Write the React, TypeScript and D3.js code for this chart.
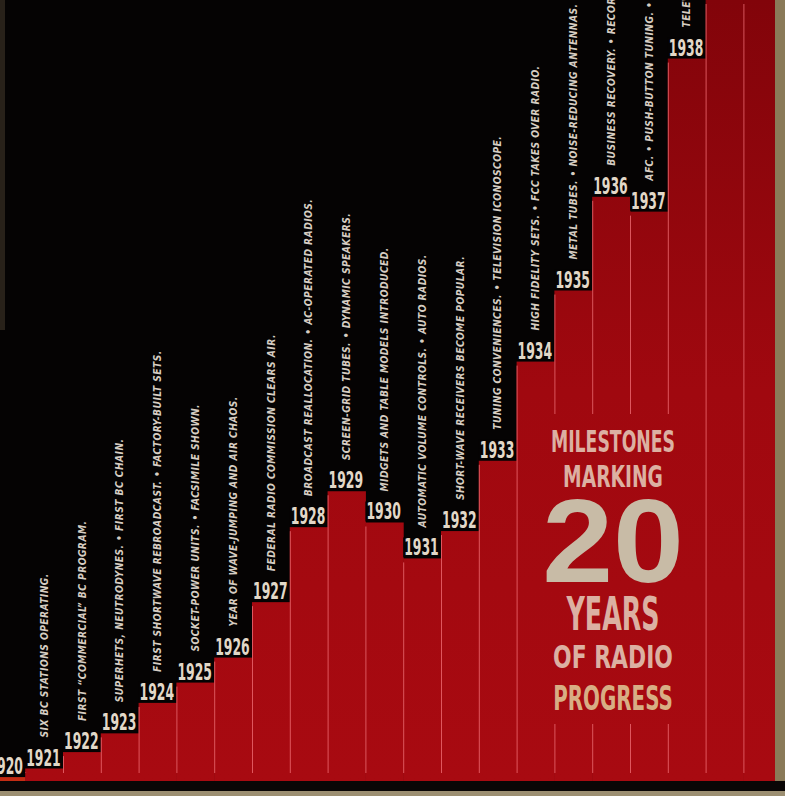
import React, { useRef, useEffect } from "react";
import * as d3 from "d3";

const WIDTH = 785;
const HEIGHT = 796;
const BASE = 781;

const years = [
  "1920", "1921", "1922", "1923", "1924", "1925", "1926", "1927", "1928", "1929", "1930",
  "1931", "1932", "1933", "1934", "1935", "1936", "1937", "1938", "1939", "1940",
];

// height of each step (0 = floor, 100 = top edge)
const progress = [
  0.5, 1.6, 3.7, 6.1, 10.0, 12.6, 15.8, 22.9, 32.5, 37.1, 33.1,
  28.5, 32.0, 41.0, 53.7, 62.8, 74.8, 72.9, 92.5, 110, 115,
];

const milestones = [
  "",
  "SIX BC STATIONS OPERATING.",
  "FIRST \u201CCOMMERCIAL\u201D BC PROGRAM.",
  "SUPERHETS, NEUTRODYNES. \u2022 FIRST BC CHAIN.",
  "FIRST SHORTWAVE REBROADCAST. \u2022 FACTORY-BUILT SETS.",
  "SOCKET-POWER UNITS. \u2022 FACSIMILE SHOWN.",
  "YEAR OF WAVE-JUMPING AND AIR CHAOS.",
  "FEDERAL RADIO COMMISSION CLEARS AIR.",
  "BROADCAST REALLOCATION. \u2022 AC-OPERATED RADIOS.",
  "SCREEN-GRID TUBES. \u2022 DYNAMIC SPEAKERS.",
  "MIDGETS AND TABLE MODELS INTRODUCED.",
  "AUTOMATIC VOLUME CONTROLS. \u2022 AUTO RADIOS.",
  "SHORT-WAVE RECEIVERS BECOME POPULAR.",
  "TUNING CONVENIENCES. \u2022 TELEVISION ICONOSCOPE.",
  "HIGH FIDELITY SETS. \u2022 FCC TAKES OVER RADIO.",
  "METAL TUBES. \u2022 NOISE-REDUCING ANTENNAS.",
  "BUSINESS RECOVERY. \u2022 RECORD SALES.",
  "AFC. \u2022 PUSH-BUTTON TUNING. \u2022 TELEVISION TESTS.",
  "TELEVISION DEBUT.",
  "",
  "",
];

const titleLines = ["MILESTONES", "MARKING", "20", "YEARS", "OF RADIO", "PROGRESS"];

const NARROW = "'Liberation Sans Narrow', 'DejaVu Sans Condensed', 'Arial Narrow', sans-serif";

export default function RadioMilestones() {
  const svgRef = useRef<SVGSVGElement | null>(null);

  useEffect(() => {
    const svg = d3.select(svgRef.current);
    svg.selectAll("*").remove();

    const x = d3
      .scaleBand<string>()
      .domain(years)
      .range([-12.6, -12.6 + years.length * 37.8])
      .padding(0);
    const y = d3.scaleLinear().domain([0, 100]).range([BASE, 0]);

    const rows = years.map((yr, i) => ({ yr, v: progress[i], text: milestones[i] }));

    // red darkens toward the top of the page
    const grad = svg
      .append("defs")
      .append("linearGradient")
      .attr("id", "barRed")
      .attr("gradientUnits", "userSpaceOnUse")
      .attr("x1", 0)
      .attr("y1", 0)
      .attr("x2", 0)
      .attr("y2", BASE);
    grad.append("stop").attr("offset", 0).attr("stop-color", "#82040a");
    grad.append("stop").attr("offset", 0.5).attr("stop-color", "#a0080f");
    grad.append("stop").attr("offset", 1).attr("stop-color", "#a80a11");

    // black page
    svg.append("rect").attr("width", WIDTH).attr("height", HEIGHT).attr("fill", "#050303");

    // bars
    svg
      .append("g")
      .selectAll("rect")
      .data(rows)
      .enter()
      .append("rect")
      .attr("x", (d) => x(d.yr)!)
      .attr("y", (d) => Math.max(0, y(d.v)))
      .attr("width", x.bandwidth() + 0.5)
      .attr("height", (d) => BASE - Math.max(0, y(d.v)))
      .attr("fill", (d, i) => (i === 0 ? "#c42c14" : "url(#barRed)"));

    // thin separators on each step's left edge
    svg
      .append("g")
      .selectAll("line")
      .data(rows.slice(1))
      .enter()
      .append("line")
      .attr("x1", (d) => x(d.yr)! + 0.5)
      .attr("x2", (d) => x(d.yr)! + 0.5)
      .attr("y1", (d) => Math.max(0, y(d.v)) + 4)
      .attr("y2", BASE - 8)
      .attr("stroke", "#ee6a72")
      .attr("stroke-opacity", 0.8)
      .attr("stroke-width", 1);

    // red panel behind the title hides the separators
    svg
      .append("rect")
      .attr("x", 541)
      .attr("y", 414)
      .attr("width", 156)
      .attr("height", 310)
      .attr("fill", "url(#barRed)");

    // year labels
    const labels = svg.append("g");
    rows.forEach((d) => {
      const top = y(d.v);
      if (top < 20) return;
      const lx = x(d.yr)!;
      labels
        .append("rect")
        .attr("x", lx)
        .attr("y", top - 21)
        .attr("width", 37)
        .attr("height", 20)
        .attr("fill", "#050303");
      labels
        .append("text")
        .attr("transform", `translate(${lx + 1},${top - 3}) scale(0.6,1)`)
        .attr("font-family", NARROW)
        .attr("font-weight", "bold")
        .attr("font-size", 23)
        .attr("fill", "#e2d8c8")
        .text(d.yr);
    });

    // milestone notes, reading upward
    svg
      .append("g")
      .selectAll("text")
      .data(rows.filter((d) => d.text))
      .enter()
      .append("text")
      .attr("transform", (d) => `translate(${x(d.yr)! + x.bandwidth() / 2},${y(d.v) - 31}) rotate(-90)`)
      .attr("dy", "0.36em")
      .attr("font-family", NARROW)
      .attr("font-weight", "bold")
      .attr("font-style", "italic")
      .attr("font-size", 10.2)
      .attr("letter-spacing", 0.45)
      .attr("fill", "#d6cdc2")
      .text((d) => d.text);

    // title block
    const title = svg.append("g").attr("text-anchor", "middle").attr("font-weight", "bold");
    const specs = [
      { base: 452, size: 31, sx: 0.62, fill: "#dcb0a2", font: NARROW },
      { base: 487, size: 31, sx: 0.67, fill: "#dcb0a2", font: NARROW },
      { base: 582, size: 118, sx: 1.08, fill: "#c8bba6", font: "'Liberation Sans', Arial, sans-serif" },
      { base: 630, size: 47, sx: 0.6, fill: "#dcb0a2", font: NARROW },
      { base: 668, size: 32, sx: 0.76, fill: "#dcb0a2", font: NARROW },
      { base: 710, size: 34, sx: 0.65, fill: "#d8ae84", font: NARROW },
    ];
    titleLines.forEach((t, i) => {
      const s = specs[i];
      title
        .append("text")
        .attr("transform", `translate(613,${s.base}) scale(${s.sx},1)`)
        .attr("font-family", s.font)
        .attr("font-size", s.size)
        .attr("fill", s.fill)
        .text(t);
    });

    // page edges of the scan
    svg.append("rect").attr("x", 0).attr("y", BASE).attr("width", WIDTH).attr("height", 10).attr("fill", "#0a0606");
    svg.append("rect").attr("x", 0).attr("y", 791).attr("width", WIDTH).attr("height", 5).attr("fill", "#9c8f72");
    svg.append("rect").attr("x", 775).attr("y", 0).attr("width", 10).attr("height", BASE).attr("fill", "#8a7a58");
    svg.append("rect").attr("x", 0).attr("y", 0).attr("width", 5).attr("height", 330).attr("fill", "#6a5c44").attr("opacity", 0.35);
  }, []);

  return (
    <svg
      ref={svgRef}
      width={WIDTH}
      height={HEIGHT}
      style={{ position: "absolute", left: 0, top: 0, background: "#050303" }}
    />
  );
}
